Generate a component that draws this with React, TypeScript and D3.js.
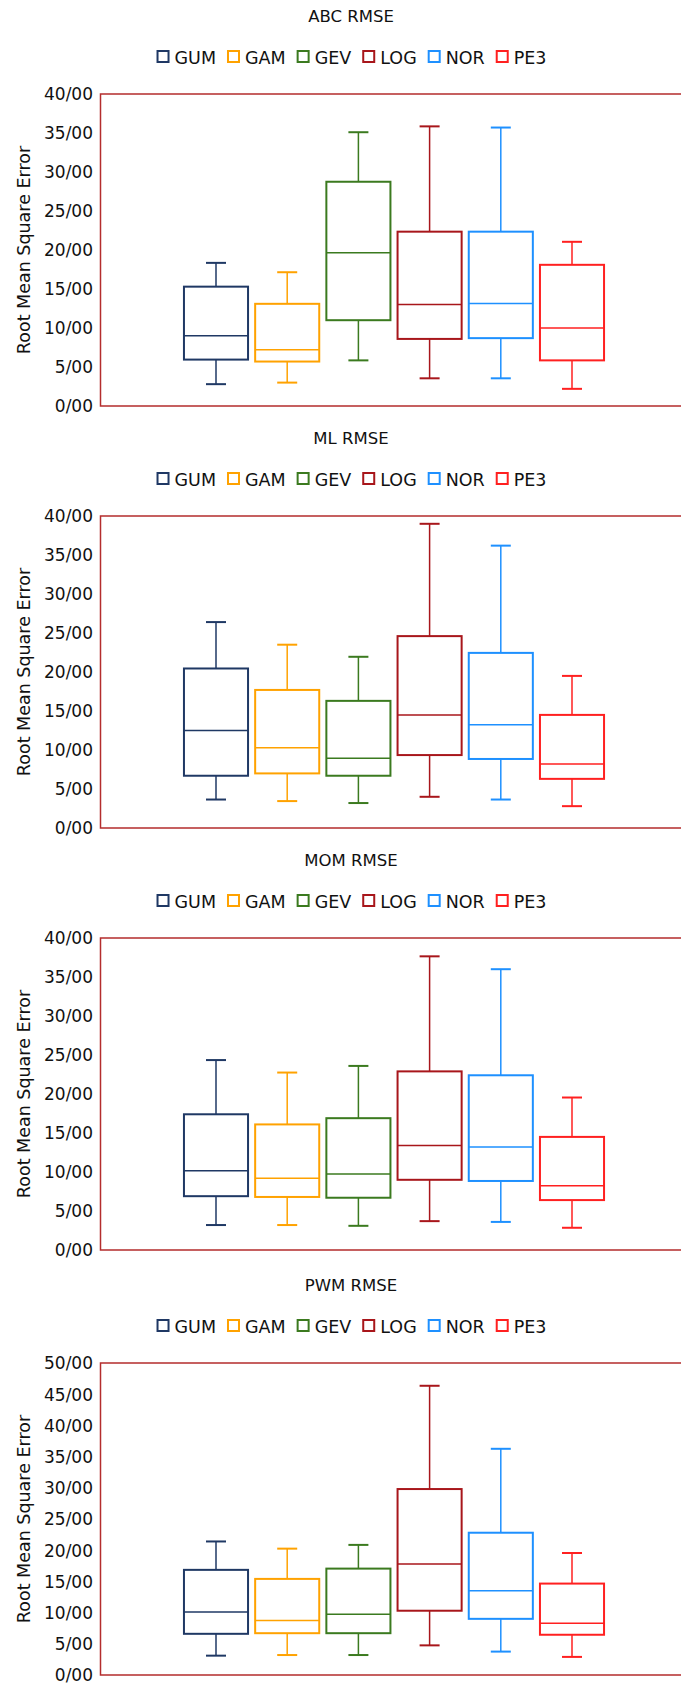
import * as d3 from "d3";
import { useRef, useEffect } from "react";

// distributions and panels
const categories = ["GUM", "GAM", "GEV", "LOG", "NOR", "PE3"];
const titles = ["ABC RMSE", "ML RMSE", "MOM RMSE", "PWM RMSE"];
const yMaxes = [40, 40, 40, 50];

// ABC
const abcLower = [2.8, 3.0, 5.85, 3.55, 3.55, 2.2];
const abcQ1 = [5.95, 5.7, 11.0, 8.6, 8.7, 5.85];
const abcMedian = [9.0, 7.2, 19.65, 13.0, 13.15, 10.0];
const abcQ3 = [15.3, 13.1, 28.75, 22.35, 22.35, 18.1];
const abcUpper = [18.35, 17.15, 35.1, 35.85, 35.7, 21.05];

// ML
const mlLower = [3.65, 3.45, 3.2, 4.0, 3.65, 2.8];
const mlQ1 = [6.7, 7.0, 6.7, 9.35, 8.85, 6.3];
const mlMedian = [12.5, 10.3, 8.95, 14.5, 13.25, 8.2];
const mlQ3 = [20.45, 17.7, 16.3, 24.6, 22.45, 14.5];
const mlUpper = [26.4, 23.5, 21.95, 39.0, 36.2, 19.5];

// MOM
const momLower = [3.2, 3.2, 3.1, 3.7, 3.6, 2.85];
const momQ1 = [6.9, 6.8, 6.7, 9.0, 8.85, 6.4];
const momMedian = [10.15, 9.2, 9.75, 13.4, 13.2, 8.25];
const momQ3 = [17.4, 16.1, 16.9, 22.9, 22.4, 14.5];
const momUpper = [24.35, 22.75, 23.6, 37.65, 36.0, 19.55];

// PWM
const pwmLower = [3.1, 3.2, 3.2, 4.75, 3.75, 2.9];
const pwmQ1 = [6.6, 6.7, 6.7, 10.3, 9.0, 6.45];
const pwmMedian = [10.1, 8.75, 9.75, 17.8, 13.5, 8.3];
const pwmQ3 = [16.85, 15.4, 17.05, 29.8, 22.8, 14.65];
const pwmUpper = [21.4, 20.25, 20.85, 46.35, 36.25, 19.55];

const panelData = [
  [abcLower, abcQ1, abcMedian, abcQ3, abcUpper],
  [mlLower, mlQ1, mlMedian, mlQ3, mlUpper],
  [momLower, momQ1, momMedian, momQ3, momUpper],
  [pwmLower, pwmQ1, pwmMedian, pwmQ3, pwmUpper],
];

const colors = ["#1f3864", "#ffa200", "#3b7a1f", "#a8161b", "#1e90ff", "#ff2020"];
const frameColor = "#b42d2d";
const font = "'DejaVu Sans', Verdana, sans-serif";

const W = 681;
const H = 1686;
const panelTops = [0, 422, 844, 1269];
const plotLeft = 100.5;
const plotTop = 94;
const plotBottom = 406;

export default function App() {
  const svgRef = useRef<SVGSVGElement>(null);

  useEffect(() => {
    if (!svgRef.current) return;
    const svg = d3.select(svgRef.current);
    svg.selectAll("*").remove();

    const x = d3
      .scaleBand<string>()
      .domain(categories)
      .range([180.4, 607.6])
      .paddingInner(0.1)
      .paddingOuter(0.05);
    const bw = x.bandwidth();

    panelData.forEach((stats, pi) => {
      const [lower, q1, median, q3, upper] = stats;
      const g = svg.append("g").attr("transform", `translate(0,${panelTops[pi]})`);

      // title
      g.append("text")
        .attr("x", 351)
        .attr("y", 21.5)
        .attr("text-anchor", "middle")
        .attr("font-family", font)
        .attr("font-size", 16.5)
        .attr("fill", "#111")
        .text(titles[pi]);

      // legend, laid out by measured text width
      const legend = g.append("g");
      let lx = 0;
      categories.forEach((c, i) => {
        const item = legend.append("g").attr("transform", `translate(${lx},0)`);
        item
          .append("rect")
          .attr("x", 0)
          .attr("y", 51)
          .attr("width", 11)
          .attr("height", 11)
          .attr("fill", "none")
          .attr("stroke", colors[i])
          .attr("stroke-width", 2);
        const t = item
          .append("text")
          .attr("x", 17)
          .attr("y", 64)
          .attr("font-family", font)
          .attr("font-size", 17.5)
          .attr("fill", "#111")
          .text(c);
        const tw = (t.node() as SVGTextElement).getComputedTextLength();
        lx += 17 + tw + 12;
      });
      const legendW = lx - 12;
      legend.attr("transform", `translate(${352 - legendW / 2},0)`);

      const y = d3.scaleLinear().domain([0, yMaxes[pi]]).range([plotBottom, plotTop]);

      // frame (no right edge)
      g.append("path")
        .attr("d", `M${W + 5},${plotTop} H${plotLeft} V${plotBottom} H${W + 5}`)
        .attr("fill", "none")
        .attr("stroke", frameColor)
        .attr("stroke-width", 1.5);

      // y ticks
      g.selectAll(".tick")
        .data(d3.range(0, yMaxes[pi] + 1, 5))
        .enter()
        .append("text")
        .attr("x", 93)
        .attr("y", (d) => y(d))
        .attr("dy", "0.38em")
        .attr("text-anchor", "end")
        .attr("font-family", font)
        .attr("font-size", 17)
        .attr("fill", "#111")
        .text((d) => `${d}/00`);

      // y label
      g.append("text")
        .attr("transform", `translate(30,${(plotTop + plotBottom) / 2}) rotate(-90)`)
        .attr("text-anchor", "middle")
        .attr("font-family", font)
        .attr("font-size", 17.5)
        .attr("fill", "#111")
        .text("Root Mean Square Error");

      // boxes
      categories.forEach((c, i) => {
        const cx = (x(c) as number) + bw / 2;
        const bx = g.append("g").attr("stroke", colors[i]).attr("fill", "none");
        bx.append("line")
          .attr("x1", cx).attr("x2", cx)
          .attr("y1", y(upper[i])).attr("y2", y(q3[i]))
          .attr("stroke-width", 1.5);
        bx.append("line")
          .attr("x1", cx).attr("x2", cx)
          .attr("y1", y(q1[i])).attr("y2", y(lower[i]))
          .attr("stroke-width", 1.5);
        [upper[i], lower[i]].forEach((v) => {
          bx.append("line")
            .attr("x1", cx - 10).attr("x2", cx + 10)
            .attr("y1", y(v)).attr("y2", y(v))
            .attr("stroke-width", 2);
        });
        bx.append("rect")
          .attr("x", cx - bw / 2)
          .attr("y", y(q3[i]))
          .attr("width", bw)
          .attr("height", y(q1[i]) - y(q3[i]))
          .attr("fill", "#fff")
          .attr("stroke-width", 2);
        bx.append("line")
          .attr("x1", cx - bw / 2).attr("x2", cx + bw / 2)
          .attr("y1", y(median[i])).attr("y2", y(median[i]))
          .attr("stroke-width", 1.5);
      });
    });
  }, []);

  return (
    <div style={{ position: "absolute", left: 0, top: 0, width: W, height: H, background: "#fff" }}>
      <svg ref={svgRef} width={W} height={H} style={{ display: "block" }} />
    </div>
  );
}
